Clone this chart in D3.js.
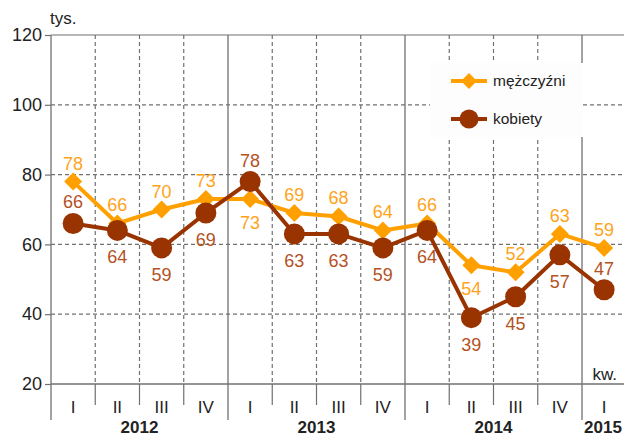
<!DOCTYPE html>
<html><head><meta charset="utf-8">
<script src="https://cdn.jsdelivr.net/npm/d3@7"></script>
<style>body{margin:0;background:#fff}svg{display:block;font-family:"Liberation Sans",Arial,sans-serif}</style>
</head><body><svg id="c" width="624" height="438"></svg>
<script>
const quarters = ["I","II","III","IV","I","II","III","IV","I","II","III","IV","I"];
const years = ["2012","2012","2012","2012","2013","2013","2013","2013","2014","2014","2014","2014","2015"];
const men = [78,66,70,73,73,69,68,64,66,54,52,63,59];
const women = [66,64,59,69,78,63,63,59,64,39,45,57,47];
const menPos = ["a","a","a","a","b","a","a","a","a","b","a","a","a"];
const womenPos = ["a","b","b","b","a","b","b","b","b","b","b","b","a"];
const yTicks = [20,40,60,80,100,120];

const svg = d3.select("#c");
const L = 51, T = 35, B = 384, qw = 44.25;
const idx = d3.range(quarters.length);
const x = d3.scaleBand().domain(idx).range([L, L + qw*quarters.length]).padding(0);
const y = d3.scaleLinear().domain([20,120]).range([B, T]);
const grid = "#707070";
const cMen = "#ffa000", cWomen = "#993300", tMen = "#ffa31a", tWomen = "#b4521f";

const g = svg.append("g");
g.selectAll(".hg").data(yTicks.filter(v=>v>20 && v<120)).join("line")
  .attr("x1", L).attr("x2", 624).attr("y1", d=>y(d)).attr("y2", d=>y(d))
  .attr("stroke", grid).attr("stroke-width",1.2).attr("stroke-dasharray","4,3");
g.append("line").attr("x1",L).attr("x2",624).attr("y1",y(120)).attr("y2",y(120)).attr("stroke",grid).attr("stroke-width",1.2);
const bounds = d3.range(1, quarters.length).map(i => ({i, year: years[i] !== years[i-1]}));
g.selectAll(".vq").data(bounds.filter(b=>!b.year)).join("line")
  .attr("x1", b=>x(b.i)).attr("x2", b=>x(b.i)).attr("y1", T).attr("y2", B)
  .attr("stroke", grid).attr("stroke-width",1.2).attr("stroke-dasharray","4,3");
g.selectAll(".vqb").data(bounds.filter(b=>!b.year)).join("line")
  .attr("x1", b=>x(b.i)).attr("x2", b=>x(b.i)).attr("y1", B).attr("y2", 405)
  .attr("stroke", grid).attr("stroke-width",1.2);
g.selectAll(".vy").data(bounds.filter(b=>b.year)).join("line")
  .attr("x1", b=>x(b.i)).attr("x2", b=>x(b.i)).attr("y1", T).attr("y2", 420)
  .attr("stroke", grid).attr("stroke-width",1.3);
g.append("line").attr("x1",L).attr("x2",L).attr("y1",T).attr("y2",420).attr("stroke",grid).attr("stroke-width",1.3);
g.append("line").attr("x1",L).attr("x2",624).attr("y1",B).attr("y2",B).attr("stroke",grid).attr("stroke-width",1.3);

const yAxis = d3.axisLeft(y).tickValues(yTicks).tickSize(6).tickPadding(3);
const ya = svg.append("g").attr("transform",`translate(${L},0)`).call(yAxis);
ya.select(".domain").remove();
ya.selectAll(".tick line").attr("stroke",grid).attr("stroke-width",1.2);
ya.selectAll(".tick text").attr("font-size",18).attr("fill","#222").attr("font-family","Liberation Sans, Arial, sans-serif");

svg.append("rect").attr("x",430).attr("y",63).attr("width",153).attr("height",74).attr("fill","#fdfdfd");

const cx = i => x(i) + x.bandwidth()/2;
const line = d3.line().x((d,i)=>cx(i)).y(d=>y(d));
svg.append("path").datum(men).attr("d",line).attr("fill","none").attr("stroke",cMen).attr("stroke-width",4).attr("stroke-linejoin","round");
svg.append("path").datum(women).attr("d",line).attr("fill","none").attr("stroke",cWomen).attr("stroke-width",4).attr("stroke-linejoin","round");
const diamond = (px,py,s) => `M${px},${py-s}L${px+s},${py}L${px},${py+s}L${px-s},${py}Z`;
svg.selectAll(".dm").data(men).join("path").attr("d",(d,i)=>diamond(cx(i),y(d),9)).attr("fill",cMen);
svg.selectAll(".cw").data(women).join("circle").attr("cx",(d,i)=>cx(i)).attr("cy",d=>y(d)).attr("r",10.5).attr("fill",cWomen);

svg.selectAll(".lm").data(men).join("text")
  .attr("x",(d,i)=>cx(i)).attr("y",(d,i)=>menPos[i]==="a"? y(d)-12 : y(d)+30)
  .attr("text-anchor","middle").attr("font-size",18).attr("fill",tMen).text(d=>d);
svg.selectAll(".lw").data(women).join("text")
  .attr("x",(d,i)=>cx(i)).attr("y",(d,i)=>womenPos[i]==="a"? y(d)-15 : y(d)+33)
  .attr("text-anchor","middle").attr("font-size",18).attr("fill",tWomen).text(d=>d);

const lg = [{name:"mężczyźni", c:cMen, t:"d", y:81},{name:"kobiety", c:cWomen, t:"c", y:119}];
lg.forEach(l=>{
  svg.append("line").attr("x1",451).attr("x2",487).attr("y1",l.y).attr("y2",l.y).attr("stroke",l.c).attr("stroke-width",4);
  if(l.t==="d") svg.append("path").attr("d",diamond(469,l.y,8)).attr("fill",l.c);
  else svg.append("circle").attr("cx",469).attr("cy",l.y).attr("r",9.5).attr("fill",l.c);
  svg.append("text").attr("x",493).attr("y",l.y+5).attr("font-size",15.5).attr("fill","#222").text(l.name);
});

svg.selectAll(".ql").data(quarters).join("text")
  .attr("x",(d,i)=>cx(i)).attr("y",413).attr("text-anchor","middle").attr("font-size",17).attr("fill","#222").text(d=>d);
const yearGroups = d3.groups(idx, i=>years[i]).map(([yr, arr])=>({yr, x0:x(arr[0]), x1:Math.min(624, x(arr[arr.length-1])+qw)}));
svg.selectAll(".yl").data(yearGroups).join("text")
  .attr("x",d=>(d.x0+d.x1)/2).attr("y",433).attr("text-anchor","middle").attr("font-size",17).attr("font-weight","bold").attr("fill","#222").text(d=>d.yr);

svg.append("text").attr("x",50).attr("y",24).attr("font-size",17).attr("fill","#222").text("tys.");
svg.append("text").attr("x",617).attr("y",380).attr("text-anchor","end").attr("font-size",17).attr("fill","#222").text("kw.");
</script></body></html>
